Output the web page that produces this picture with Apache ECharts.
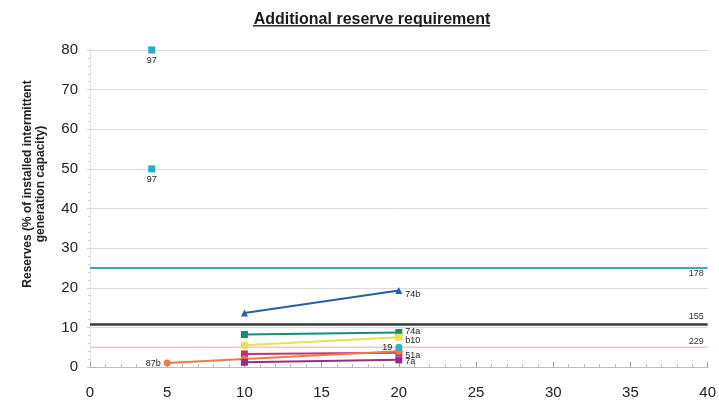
<!DOCTYPE html>
<html>
<head>
<meta charset="utf-8">
<script src="https://cdn.jsdelivr.net/npm/echarts@6/dist/echarts.min.js"></script>
<style>
  html, body { margin: 0; padding: 0; background: #fff; }
  #chart { width: 719px; height: 403px; }
</style>
</head>
<body>
<div id="chart"></div>
<script>
// Reserve requirement (% of installed intermittent capacity) vs. penetration
const titleText = 'Additional reserve requirement';
const yAxisTitle = ['Reserves (% of installed intermittent', 'generation capacity)'];
const xTicks = [0, 5, 10, 15, 20, 25, 30, 35, 40];
const yTicks = [0, 10, 20, 30, 40, 50, 60, 70, 80];

// Study results: [penetration, reserves]
const s97a = [[4, 80]];
const s97b = [[4, 50]];
const s74b = [[10, 13.6], [20, 19.3]];
const s74a = [[10, 8.2], [20, 8.7]];
const sB10 = [[10, 5.5], [20, 7.5]];
const s19 = [[20, 5.0]];
const s51a = [[10, 3.3], [20, 3.6]];
const s87b = [[5, 1.0], [10, 2.0], [20, 4.0]];
const s7a = [[10, 1.2], [20, 1.8]];

// Flat requirements reported independently of penetration
const flat178 = 25;
const flat155 = 10.7;
const flat229 = 5;
const xRange = [0, 40];

const FONT = 'Liberation Sans, Arial, sans-serif';
const chart = echarts.init(document.getElementById('chart'));

function pointSeries(name, data, color, symbol, labelPos, labelText, labelOffset) {
  const labelIdx = labelPos === 'left' ? 0 : data.length - 1;
  return {
    name: name,
    type: 'line',
    data: data.map((d, i) => ({
      value: d,
      label: {
        show: i === labelIdx,
        position: labelPos,
        formatter: labelText,
        offset: labelOffset || [0, 0],
        fontSize: 9,
        color: '#222',
        fontFamily: FONT,
        distance: 3
      }
    })),
    symbol: symbol,
    symbolSize: 7,
    showSymbol: true,
    itemStyle: { color: color },
    lineStyle: { color: color, width: 2 },
    z: 5,
    clip: false
  };
}

function flatSeries(name, yVal, color, width, labelText, labelOffset) {
  return {
    name: name,
    type: 'line',
    data: [
      { value: [xRange[0], yVal], label: { show: false } },
      {
        value: [xRange[1], yVal],
        label: {
          show: true,
          formatter: labelText,
          position: 'inside',
          align: 'right',
          verticalAlign: 'middle',
          offset: labelOffset,
          fontSize: 9,
          color: '#333',
          fontFamily: FONT
        }
      }
    ],
    symbol: 'circle',
    symbolSize: 0,
    showSymbol: true,
    itemStyle: { color: color },
    lineStyle: { color: color, width: width },
    z: 3,
    clip: false
  };
}

const option = {
  backgroundColor: '#fff',
  animation: false,
  grid: { left: 90, right: 11, top: 50, bottom: 36 },
  title: {
    text: titleText,
    left: 367,
    top: 7,
    textAlign: 'center',
    textStyle: {
      fontSize: 16,
      fontWeight: 'bold',
      color: '#1a1a1a',
      fontFamily: FONT
    }
  },
  graphic: [
    {
      type: 'rect',
      shape: { x: 253, y: 25, width: 237, height: 1.5 },
      style: { fill: '#3a2a22' }
    },
    {
      type: 'text',
      x: 34,
      y: 184,
      rotation: Math.PI / 2,
      style: {
        text: yAxisTitle.join('\n'),
        font: 'bold 12px "Liberation Sans", Arial, sans-serif',
        fill: '#222',
        align: 'center',
        verticalAlign: 'middle',
        lineHeight: 13
      }
    }
  ],
  xAxis: {
    type: 'value',
    min: 0,
    max: 40,
    interval: 5,
    axisLine: { show: true, lineStyle: { color: '#bbb', width: 1 } },
    axisTick: { show: true, inside: true, length: 5, lineStyle: { color: '#999' } },
    minorTick: { show: true, splitNumber: 5, length: 3, lineStyle: { color: '#bbb' } },
    splitLine: { show: false },
    axisLabel: {
      fontSize: 15,
      color: '#222',
      margin: 18,
      fontFamily: FONT,
      formatter: v => (xTicks.includes(v) ? String(v) : '')
    }
  },
  yAxis: {
    type: 'value',
    min: 0,
    max: 80,
    interval: 10,
    axisLine: { show: true, lineStyle: { color: '#e4e4e4', width: 1 } },
    axisTick: { show: true, length: 3, lineStyle: { color: '#ccc' } },
    minorTick: { show: true, splitNumber: 5, length: 2, lineStyle: { color: '#ccc' } },
    splitLine: { show: true, lineStyle: { color: '#dcdcdc', width: 1 } },
    axisLabel: {
      fontSize: 15,
      color: '#222',
      margin: 12,
      fontFamily: FONT,
      formatter: v => (yTicks.includes(v) ? String(v) : '')
    }
  },
  series: [
    flatSeries('178', flat178, '#3fa9c2', 2, '178', [-4, 6]),
    flatSeries('155', flat155, '#3a3a3a', 2.5, '155', [-4, -8]),
    flatSeries('229', flat229, '#f3c6cf', 1.5, '229', [-4, -6]),
    pointSeries('97a', s97a, '#1fb0c0', 'rect', 'bottom', '97'),
    pointSeries('97b', s97b, '#1fb0c0', 'rect', 'bottom', '97'),
    pointSeries('74b', s74b, '#2a5ca8', 'triangle', 'right', '74b', [0, 4]),
    pointSeries('74a', s74a, '#1a8a78', 'rect', 'right', '74a', [0, -1]),
    pointSeries('b10', sB10, '#ece24a', 'rect', 'right', 'b10', [0, 3]),
    pointSeries('51a', s51a, '#c3307a', 'rect', 'right', '51a', [0, 3]),
    pointSeries('87b', s87b, '#f27a45', 'circle', 'left', '87b'),
    pointSeries('7a', s7a, '#9a2a88', 'rect', 'right', '7a', [0, 2]),
    pointSeries('19', s19, '#22b5d6', 'circle', 'left', '19')
  ]
};

chart.setOption(option);
</script>
</body>
</html>
